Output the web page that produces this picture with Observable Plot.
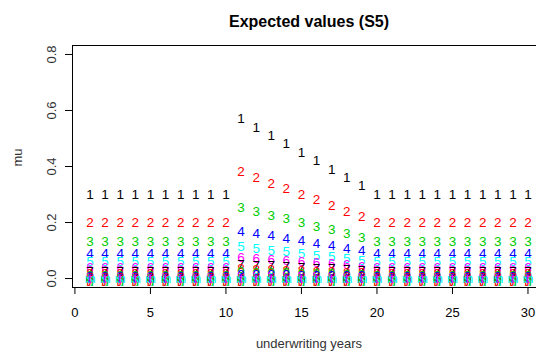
<!DOCTYPE html>
<html>
<head>
<meta charset="utf-8">
<script src="https://cdn.jsdelivr.net/npm/d3@7"></script>
<script src="https://cdn.jsdelivr.net/npm/@observablehq/plot@0.6"></script>
<style>
  html, body { margin: 0; padding: 0; background: #fff; overflow: hidden; }
  #chart svg { overflow: hidden; }
</style>
</head>
<body>
<div id="chart"></div>
<script>
// Underwriting years on the x axis
const years = [1, 2, 3, 4, 5, 6, 7, 8, 9, 10, 11, 12, 13, 14, 15,
               16, 17, 18, 19, 20, 21, 22, 23, 24, 25, 26, 27, 28, 29, 30];

// Relative level of each underwriting year (years 11-19 carry a raised load)
const yearFactor = [1, 1, 1, 1, 1, 1, 1, 1, 1, 1,
                    1.9, 1.8, 1.7, 1.6, 1.5, 1.4, 1.3, 1.2, 1.1,
                    1, 1, 1, 1, 1, 1, 1, 1, 1, 1, 1];

// Expected value of each development period in a normal year
const levels = [0.300, 0.200, 0.133, 0.089, 0.059, 0.040, 0.026, 0.018, 0.012, 0.008,
                0.0052, 0.0035, 0.0023, 0.0015, 0.0010, 0.0007, 0.0005, 0.0003, 0.0002, 0.00014,
                0.0001, 0.00006, 0.00004, 0.00003, 0.00002, 0.00001, 0.00001, 0.00001, 0, 0];

// Plotting symbols and colours, one per development period
const symbols = ["1", "2", "3", "4", "5", "6", "7", "8", "9", "0",
                 "a", "b", "c", "d", "e", "f", "g", "h", "i", "j",
                 "k", "l", "m", "n", "o", "p", "q", "r", "s", "t"];
const palette = ["#000000", "#FF0000", "#00CD00", "#0000FF", "#00FFFF", "#FF00FF"];

const xTicks = [0, 5, 10, 15, 20, 25, 30];
const yTicks = [0, 0.2, 0.4, 0.6, 0.8];

// Long table: one row per (period, year); later periods are drawn on top
const rows = [];
levels.forEach((lvl, k) => {
  years.forEach((yr, i) => {
    rows.push({
      year: yr,
      mu: lvl * yearFactor[i],
      sym: symbols[k],
      col: palette[k % palette.length]
    });
  });
});

// Axis ranges padded by 4% on each side
const xPad = 0.04 * (30 - 1);
const yPad = 0.04 * 0.8;

const font = "'Liberation Sans', Arial, Helvetica, sans-serif";

const chart = Plot.plot({
  width: 536,
  height: 360,
  marginLeft: 72,
  marginRight: -9,
  marginTop: 45,
  marginBottom: 73,
  style: { fontFamily: font, fontSize: "13px", color: "#000", background: "#fff" },
  x: { domain: [1 - xPad, 30 + xPad] },
  y: { domain: [0 - yPad, 0.8 + yPad] },
  color: { type: "identity" },
  marks: [
    Plot.frame({ stroke: "#000", strokeWidth: 1 }),
    Plot.axisX({ ticks: xTicks, tickSize: 7, tickPadding: 13, label: null, stroke: "#000", fontSize: 13 }),
    Plot.axisY({ ticks: yTicks, tickSize: 7, tickPadding: 10, tickRotate: -90, tickFormat: d => d.toFixed(1),
                 label: null, stroke: "#000", fontSize: 13, fill: "#333" }),
    Plot.text(rows, { x: "year", y: "mu", text: "sym", fill: "col", fontSize: 13.5, fontFamily: font }),
    Plot.text(["Expected values (S5)"], { frameAnchor: "top", dy: -30, fontSize: 16, fontWeight: "bold", fill: "#000" }),
    Plot.text(["underwriting years"], { frameAnchor: "bottom", dy: 60, fontSize: 13, fill: "#333" }),
    Plot.text(["mu"], { frameAnchor: "left", dx: -55, rotate: -90, fontSize: 13, fill: "#333" })
  ]
});

document.getElementById("chart").appendChild(chart);
</script>
</body>
</html>
